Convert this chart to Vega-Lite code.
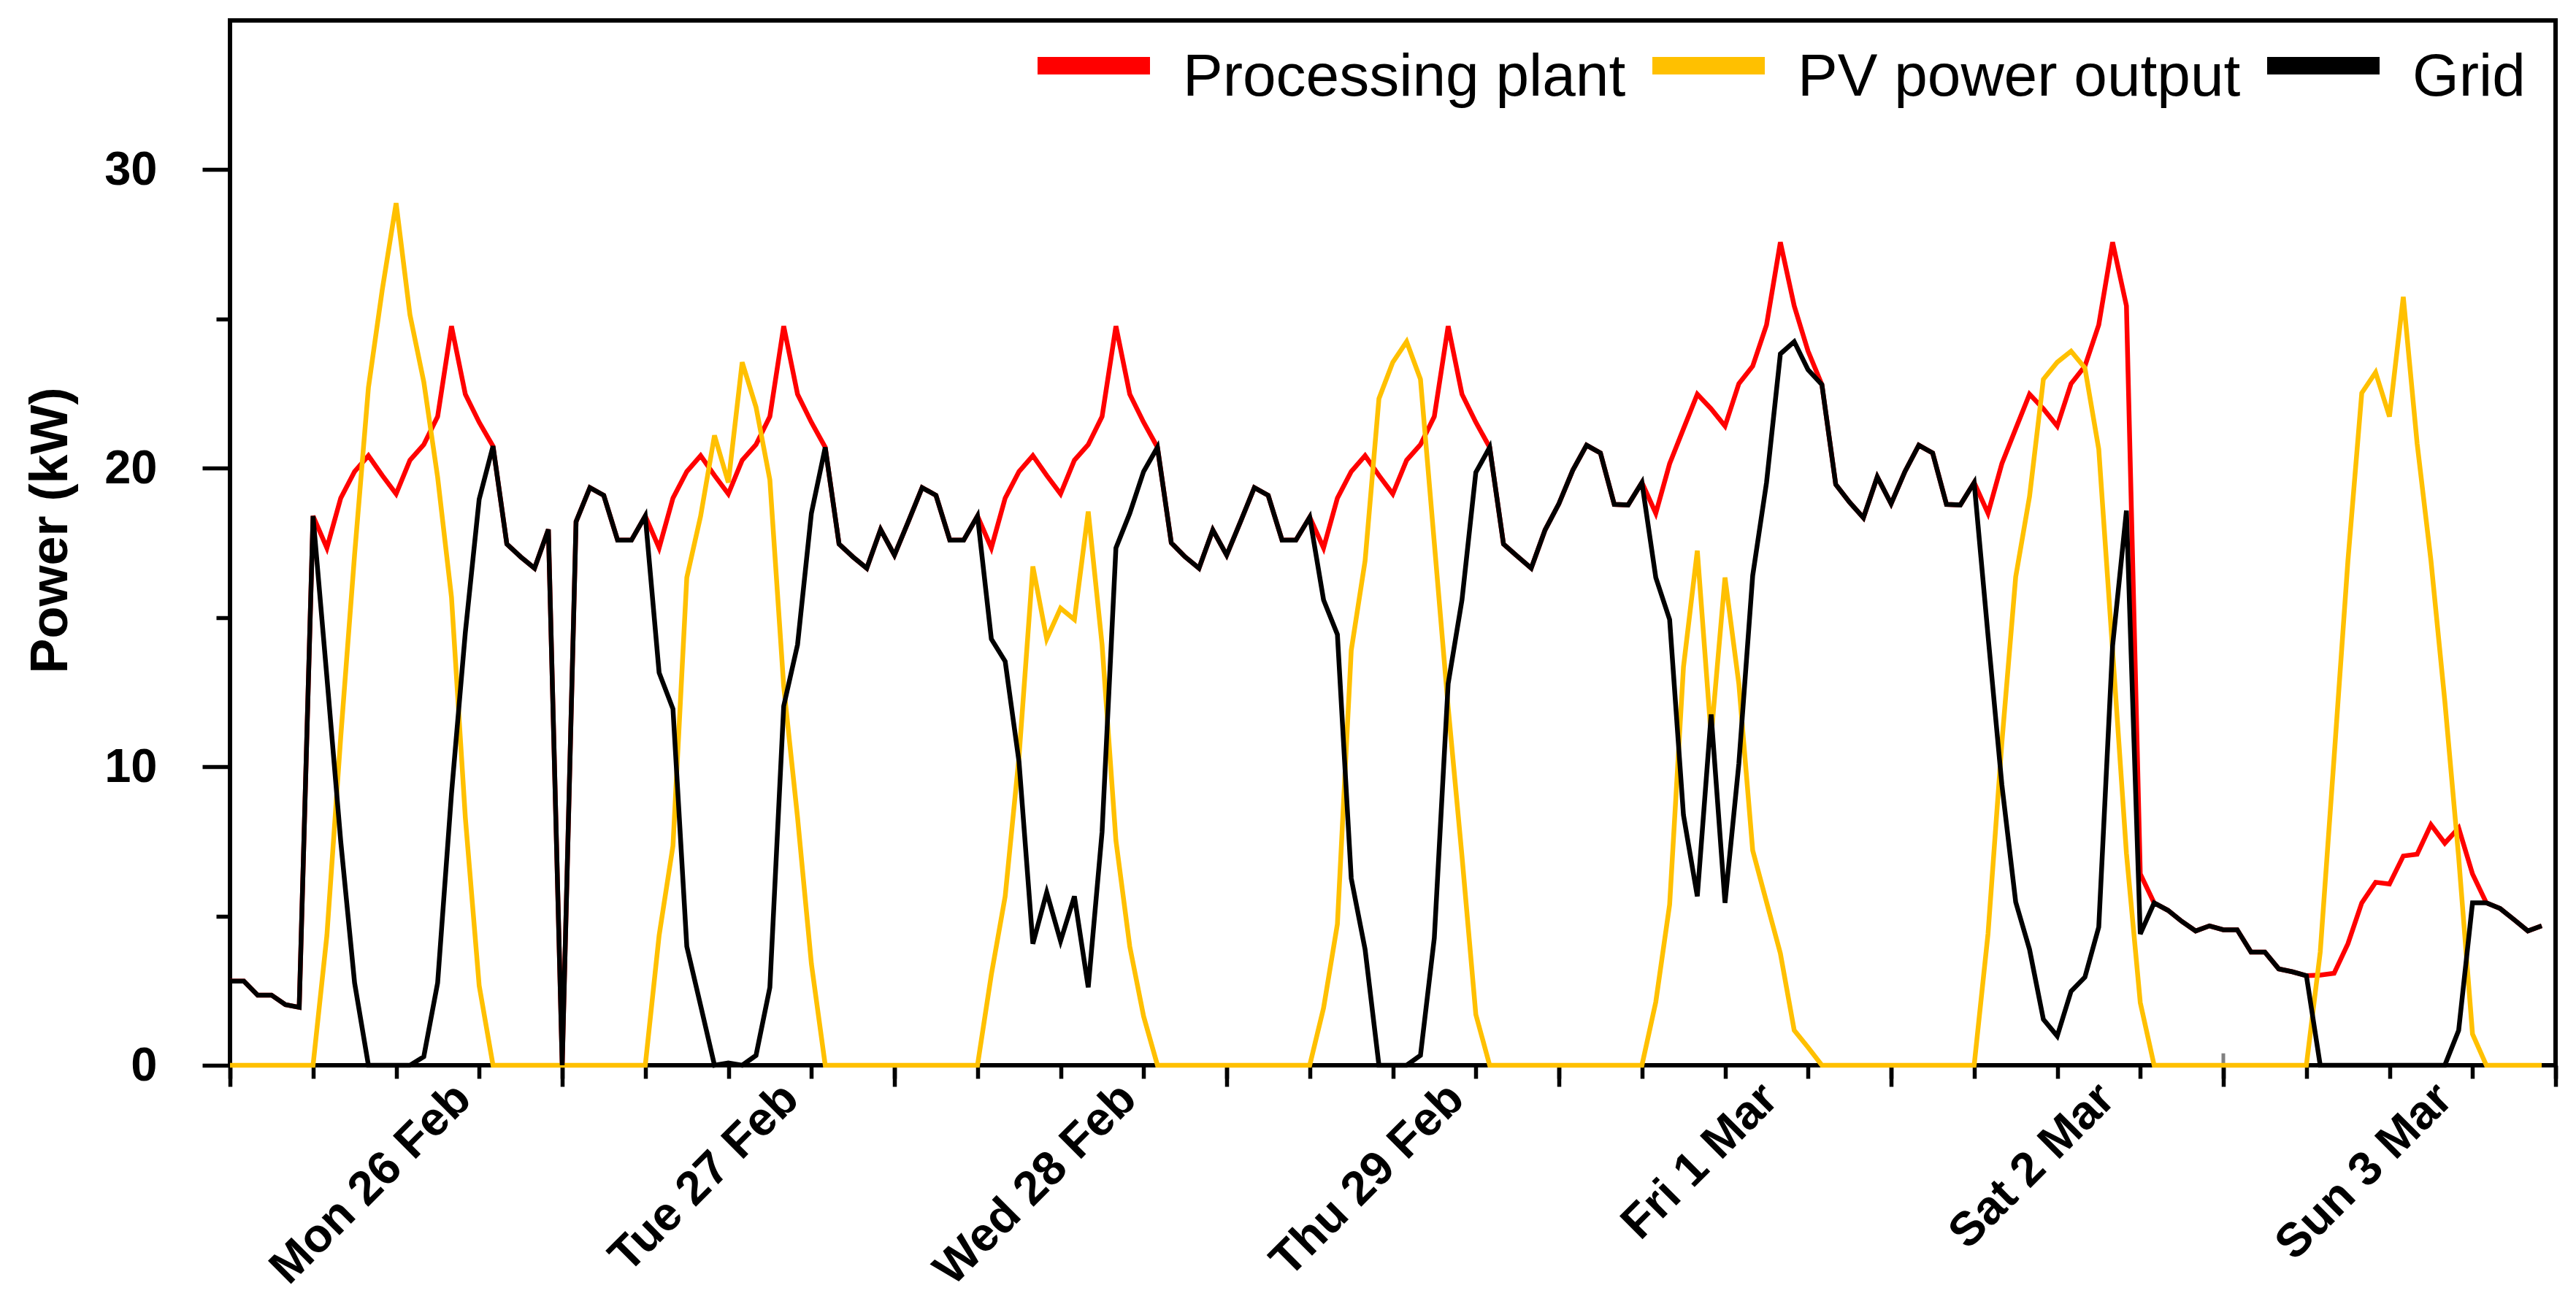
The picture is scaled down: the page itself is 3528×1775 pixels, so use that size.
{
  "$schema": "https://vega.github.io/schema/vega-lite/v6.json",
  "width": 3185,
  "height": 1431,
  "autosize": {"type": "none"},
  "padding": {"left": 315, "top": 28, "right": 28, "bottom": 316},
  "background": "white",
  "datasets": {
    "power": [
      {"h": 0, "Processing plant": 2.82, "PV power output": 0, "Grid": 2.82},
      {"h": 1, "Processing plant": 2.82, "PV power output": 0, "Grid": 2.82},
      {"h": 2, "Processing plant": 2.35, "PV power output": 0, "Grid": 2.35},
      {"h": 3, "Processing plant": 2.35, "PV power output": 0, "Grid": 2.35},
      {"h": 4, "Processing plant": 2.03, "PV power output": 0, "Grid": 2.03},
      {"h": 5, "Processing plant": 1.94, "PV power output": 0, "Grid": 1.94},
      {"h": 6, "Processing plant": 18.4, "PV power output": 0, "Grid": 18.4},
      {"h": 7, "Processing plant": 17.33, "PV power output": 4.35, "Grid": 13.0},
      {"h": 8, "Processing plant": 19.0, "PV power output": 11.0, "Grid": 7.5},
      {"h": 9, "Processing plant": 19.89, "PV power output": 17.1, "Grid": 2.76},
      {"h": 10, "Processing plant": 20.42, "PV power output": 22.7, "Grid": 0},
      {"h": 11, "Processing plant": 19.76, "PV power output": 25.98, "Grid": 0},
      {"h": 12, "Processing plant": 19.14, "PV power output": 28.88, "Grid": 0},
      {"h": 13, "Processing plant": 20.27, "PV power output": 25.14, "Grid": 0},
      {"h": 14, "Processing plant": 20.79, "PV power output": 22.89, "Grid": 0.29},
      {"h": 15, "Processing plant": 21.73, "PV power output": 19.7, "Grid": 2.76},
      {"h": 16, "Processing plant": 24.76, "PV power output": 15.68, "Grid": 9.1},
      {"h": 17, "Processing plant": 22.48, "PV power output": 8.3, "Grid": 14.5},
      {"h": 18, "Processing plant": 21.54, "PV power output": 2.67, "Grid": 18.96},
      {"h": 19, "Processing plant": 20.74, "PV power output": 0, "Grid": 20.74},
      {"h": 20, "Processing plant": 17.46, "PV power output": 0, "Grid": 17.46},
      {"h": 21, "Processing plant": 17.03, "PV power output": 0, "Grid": 17.03},
      {"h": 22, "Processing plant": 16.65, "PV power output": 0, "Grid": 16.65},
      {"h": 23, "Processing plant": 17.95, "PV power output": 0, "Grid": 17.95},
      {"h": 24, "Processing plant": 0, "PV power output": 0, "Grid": 0},
      {"h": 25, "Processing plant": 18.21, "PV power output": 0, "Grid": 18.21},
      {"h": 26, "Processing plant": 19.35, "PV power output": 0, "Grid": 19.35},
      {"h": 27, "Processing plant": 19.09, "PV power output": 0, "Grid": 19.09},
      {"h": 28, "Processing plant": 17.59, "PV power output": 0, "Grid": 17.59},
      {"h": 29, "Processing plant": 17.59, "PV power output": 0, "Grid": 17.59},
      {"h": 30, "Processing plant": 18.4, "PV power output": 0, "Grid": 18.4},
      {"h": 31, "Processing plant": 17.33, "PV power output": 4.35, "Grid": 13.15},
      {"h": 32, "Processing plant": 19.0, "PV power output": 7.35, "Grid": 11.94},
      {"h": 33, "Processing plant": 19.89, "PV power output": 16.34, "Grid": 3.98},
      {"h": 34, "Processing plant": 20.42, "PV power output": 18.4, "Grid": 2.0},
      {"h": 35, "Processing plant": 19.76, "PV power output": 21.1, "Grid": 0},
      {"h": 36, "Processing plant": 19.14, "PV power output": 19.52, "Grid": 0.08},
      {"h": 37, "Processing plant": 20.27, "PV power output": 23.55, "Grid": 0},
      {"h": 38, "Processing plant": 20.79, "PV power output": 22.05, "Grid": 0.33},
      {"h": 39, "Processing plant": 21.73, "PV power output": 19.61, "Grid": 2.61},
      {"h": 40, "Processing plant": 24.76, "PV power output": 12.7, "Grid": 12.03},
      {"h": 41, "Processing plant": 22.48, "PV power output": 8.3, "Grid": 14.09},
      {"h": 42, "Processing plant": 21.54, "PV power output": 3.4, "Grid": 18.49},
      {"h": 43, "Processing plant": 20.7, "PV power output": 0, "Grid": 20.7},
      {"h": 44, "Processing plant": 17.46, "PV power output": 0, "Grid": 17.46},
      {"h": 45, "Processing plant": 17.03, "PV power output": 0, "Grid": 17.03},
      {"h": 46, "Processing plant": 16.65, "PV power output": 0, "Grid": 16.65},
      {"h": 47, "Processing plant": 17.95, "PV power output": 0, "Grid": 17.95},
      {"h": 48, "Processing plant": 17.09, "PV power output": 0, "Grid": 17.09},
      {"h": 49, "Processing plant": 18.21, "PV power output": 0, "Grid": 18.21},
      {"h": 50, "Processing plant": 19.35, "PV power output": 0, "Grid": 19.35},
      {"h": 51, "Processing plant": 19.09, "PV power output": 0, "Grid": 19.09},
      {"h": 52, "Processing plant": 17.59, "PV power output": 0, "Grid": 17.59},
      {"h": 53, "Processing plant": 17.59, "PV power output": 0, "Grid": 17.59},
      {"h": 54, "Processing plant": 18.4, "PV power output": 0, "Grid": 18.4},
      {"h": 55, "Processing plant": 17.33, "PV power output": 3.04, "Grid": 14.28},
      {"h": 56, "Processing plant": 19.0, "PV power output": 5.66, "Grid": 13.53},
      {"h": 57, "Processing plant": 19.89, "PV power output": 10.34, "Grid": 10.16},
      {"h": 58, "Processing plant": 20.42, "PV power output": 16.71, "Grid": 4.07},
      {"h": 59, "Processing plant": 19.76, "PV power output": 14.28, "Grid": 5.79},
      {"h": 60, "Processing plant": 19.14, "PV power output": 15.31, "Grid": 4.16},
      {"h": 61, "Processing plant": 20.27, "PV power output": 14.93, "Grid": 5.66},
      {"h": 62, "Processing plant": 20.79, "PV power output": 18.55, "Grid": 2.61},
      {"h": 63, "Processing plant": 21.73, "PV power output": 14.09, "Grid": 7.82},
      {"h": 64, "Processing plant": 24.76, "PV power output": 7.53, "Grid": 17.33},
      {"h": 65, "Processing plant": 22.48, "PV power output": 3.98, "Grid": 18.49},
      {"h": 66, "Processing plant": 21.54, "PV power output": 1.64, "Grid": 19.89},
      {"h": 67, "Processing plant": 20.7, "PV power output": 0, "Grid": 20.7},
      {"h": 68, "Processing plant": 17.5, "PV power output": 0, "Grid": 17.5},
      {"h": 69, "Processing plant": 17.03, "PV power output": 0, "Grid": 17.03},
      {"h": 70, "Processing plant": 16.65, "PV power output": 0, "Grid": 16.65},
      {"h": 71, "Processing plant": 17.93, "PV power output": 0, "Grid": 17.93},
      {"h": 72, "Processing plant": 17.09, "PV power output": 0, "Grid": 17.09},
      {"h": 73, "Processing plant": 18.21, "PV power output": 0, "Grid": 18.21},
      {"h": 74, "Processing plant": 19.35, "PV power output": 0, "Grid": 19.35},
      {"h": 75, "Processing plant": 19.09, "PV power output": 0, "Grid": 19.09},
      {"h": 76, "Processing plant": 17.59, "PV power output": 0, "Grid": 17.59},
      {"h": 77, "Processing plant": 17.59, "PV power output": 0, "Grid": 17.59},
      {"h": 78, "Processing plant": 18.36, "PV power output": 0, "Grid": 18.36},
      {"h": 79, "Processing plant": 17.33, "PV power output": 1.92, "Grid": 15.59},
      {"h": 80, "Processing plant": 19.0, "PV power output": 4.73, "Grid": 14.43},
      {"h": 81, "Processing plant": 19.89, "PV power output": 13.9, "Grid": 6.26},
      {"h": 82, "Processing plant": 20.42, "PV power output": 16.9, "Grid": 3.88},
      {"h": 83, "Processing plant": 19.76, "PV power output": 22.33, "Grid": 0},
      {"h": 84, "Processing plant": 19.14, "PV power output": 23.55, "Grid": 0},
      {"h": 85, "Processing plant": 20.27, "PV power output": 24.24, "Grid": 0},
      {"h": 86, "Processing plant": 20.79, "PV power output": 22.98, "Grid": 0.33},
      {"h": 87, "Processing plant": 21.73, "PV power output": 17.5, "Grid": 4.26},
      {"h": 88, "Processing plant": 24.76, "PV power output": 12.0, "Grid": 12.78},
      {"h": 89, "Processing plant": 22.48, "PV power output": 7.0, "Grid": 15.59},
      {"h": 90, "Processing plant": 21.54, "PV power output": 1.7, "Grid": 19.86},
      {"h": 91, "Processing plant": 20.7, "PV power output": 0, "Grid": 20.7},
      {"h": 92, "Processing plant": 17.46, "PV power output": 0, "Grid": 17.46},
      {"h": 93, "Processing plant": 17.05, "PV power output": 0, "Grid": 17.05},
      {"h": 94, "Processing plant": 16.65, "PV power output": 0, "Grid": 16.65},
      {"h": 95, "Processing plant": 17.93, "PV power output": 0, "Grid": 17.93},
      {"h": 96, "Processing plant": 18.81, "PV power output": 0, "Grid": 18.81},
      {"h": 97, "Processing plant": 19.93, "PV power output": 0, "Grid": 19.93},
      {"h": 98, "Processing plant": 20.77, "PV power output": 0, "Grid": 20.77},
      {"h": 99, "Processing plant": 20.51, "PV power output": 0, "Grid": 20.51},
      {"h": 100, "Processing plant": 18.79, "PV power output": 0, "Grid": 18.79},
      {"h": 101, "Processing plant": 18.77, "PV power output": 0, "Grid": 18.77},
      {"h": 102, "Processing plant": 19.52, "PV power output": 0, "Grid": 19.52},
      {"h": 103, "Processing plant": 18.49, "PV power output": 2.12, "Grid": 16.34},
      {"h": 104, "Processing plant": 20.15, "PV power output": 5.38, "Grid": 14.93},
      {"h": 105, "Processing plant": 21.32, "PV power output": 13.34, "Grid": 8.38},
      {"h": 106, "Processing plant": 22.48, "PV power output": 17.24, "Grid": 5.66},
      {"h": 107, "Processing plant": 21.99, "PV power output": 11.0, "Grid": 11.75},
      {"h": 108, "Processing plant": 21.41, "PV power output": 16.34, "Grid": 5.44},
      {"h": 109, "Processing plant": 22.83, "PV power output": 12.78, "Grid": 10.1},
      {"h": 110, "Processing plant": 23.42, "PV power output": 7.2, "Grid": 16.4},
      {"h": 111, "Processing plant": 24.8, "PV power output": 5.47, "Grid": 19.52},
      {"h": 112, "Processing plant": 27.57, "PV power output": 3.75, "Grid": 23.83},
      {"h": 113, "Processing plant": 25.44, "PV power output": 1.17, "Grid": 24.24},
      {"h": 114, "Processing plant": 23.92, "PV power output": 0.6, "Grid": 23.3},
      {"h": 115, "Processing plant": 22.8, "PV power output": 0, "Grid": 22.8},
      {"h": 116, "Processing plant": 19.46, "PV power output": 0, "Grid": 19.46},
      {"h": 117, "Processing plant": 18.86, "PV power output": 0, "Grid": 18.86},
      {"h": 118, "Processing plant": 18.34, "PV power output": 0, "Grid": 18.34},
      {"h": 119, "Processing plant": 19.71, "PV power output": 0, "Grid": 19.71},
      {"h": 120, "Processing plant": 18.81, "PV power output": 0, "Grid": 18.81},
      {"h": 121, "Processing plant": 19.89, "PV power output": 0, "Grid": 19.89},
      {"h": 122, "Processing plant": 20.77, "PV power output": 0, "Grid": 20.77},
      {"h": 123, "Processing plant": 20.51, "PV power output": 0, "Grid": 20.51},
      {"h": 124, "Processing plant": 18.79, "PV power output": 0, "Grid": 18.79},
      {"h": 125, "Processing plant": 18.77, "PV power output": 0, "Grid": 18.77},
      {"h": 126, "Processing plant": 19.52, "PV power output": 0, "Grid": 19.52},
      {"h": 127, "Processing plant": 18.49, "PV power output": 4.4, "Grid": 14.4},
      {"h": 128, "Processing plant": 20.15, "PV power output": 10.8, "Grid": 9.4},
      {"h": 129, "Processing plant": 21.32, "PV power output": 16.36, "Grid": 5.47},
      {"h": 130, "Processing plant": 22.48, "PV power output": 19.05, "Grid": 3.88},
      {"h": 131, "Processing plant": 21.99, "PV power output": 22.98, "Grid": 1.54},
      {"h": 132, "Processing plant": 21.41, "PV power output": 23.55, "Grid": 0.98},
      {"h": 133, "Processing plant": 22.83, "PV power output": 23.92, "Grid": 2.48},
      {"h": 134, "Processing plant": 23.42, "PV power output": 23.36, "Grid": 2.95},
      {"h": 135, "Processing plant": 24.8, "PV power output": 20.64, "Grid": 4.63},
      {"h": 136, "Processing plant": 27.57, "PV power output": 13.9, "Grid": 14.05},
      {"h": 137, "Processing plant": 25.44, "PV power output": 7.1, "Grid": 18.58},
      {"h": 138, "Processing plant": 6.41, "PV power output": 2.1, "Grid": 4.4},
      {"h": 139, "Processing plant": 5.44, "PV power output": 0, "Grid": 5.44},
      {"h": 140, "Processing plant": 5.19, "PV power output": 0, "Grid": 5.19},
      {"h": 141, "Processing plant": 4.82, "PV power output": 0, "Grid": 4.82},
      {"h": 142, "Processing plant": 4.5, "PV power output": 0, "Grid": 4.5},
      {"h": 143, "Processing plant": 4.67, "PV power output": 0, "Grid": 4.67},
      {"h": 144, "Processing plant": 4.54, "PV power output": 0, "Grid": 4.54},
      {"h": 145, "Processing plant": 4.54, "PV power output": 0, "Grid": 4.54},
      {"h": 146, "Processing plant": 3.79, "PV power output": 0, "Grid": 3.79},
      {"h": 147, "Processing plant": 3.79, "PV power output": 0, "Grid": 3.79},
      {"h": 148, "Processing plant": 3.23, "PV power output": 0, "Grid": 3.23},
      {"h": 149, "Processing plant": 3.13, "PV power output": 0, "Grid": 3.13},
      {"h": 150, "Processing plant": 3.0, "PV power output": 0, "Grid": 3.0},
      {"h": 151, "Processing plant": 3.02, "PV power output": 3.79, "Grid": 0},
      {"h": 152, "Processing plant": 3.08, "PV power output": 10.3, "Grid": 0},
      {"h": 153, "Processing plant": 4.07, "PV power output": 16.9, "Grid": 0},
      {"h": 154, "Processing plant": 5.44, "PV power output": 22.52, "Grid": 0},
      {"h": 155, "Processing plant": 6.13, "PV power output": 23.21, "Grid": 0},
      {"h": 156, "Processing plant": 6.07, "PV power output": 21.73, "Grid": 0},
      {"h": 157, "Processing plant": 7.01, "PV power output": 25.74, "Grid": 0},
      {"h": 158, "Processing plant": 7.07, "PV power output": 20.83, "Grid": 0},
      {"h": 159, "Processing plant": 8.06, "PV power output": 16.9, "Grid": 0},
      {"h": 160, "Processing plant": 7.44, "PV power output": 12.2, "Grid": 0},
      {"h": 161, "Processing plant": 7.95, "PV power output": 6.97, "Grid": 1.17},
      {"h": 162, "Processing plant": 6.41, "PV power output": 1.05, "Grid": 5.44},
      {"h": 163, "Processing plant": 5.44, "PV power output": 0, "Grid": 5.44},
      {"h": 164, "Processing plant": 5.25, "PV power output": 0, "Grid": 5.25},
      {"h": 165, "Processing plant": 4.88, "PV power output": 0, "Grid": 4.88},
      {"h": 166, "Processing plant": 4.5, "PV power output": 0, "Grid": 4.5},
      {"h": 167, "Processing plant": 4.67, "PV power output": 0, "Grid": 4.67}
    ],
    "marker": [{"h": 144, "v0": 0, "v1": 0.4}]
  },
  "layer": [
    {
      "data": {"name": "marker"},
      "mark": {"type": "rule", "color": "#808080", "strokeWidth": 5},
      "encoding": {
        "x": {
          "field": "h",
          "type": "quantitative",
          "scale": {"domain": [0, 168], "nice": false, "zero": false},
          "axis": {
            "orient": "bottom",
            "values": [0, 24, 48, 72, 96, 120, 144, 168],
            "tickSize": 29,
            "labels": false,
            "title": null
          }
        },
        "y": {
          "field": "v0",
          "type": "quantitative",
          "scale": {"domain": [0, 35], "nice": false},
          "axis": {
            "orient": "left",
            "values": [5, 15, 25],
            "tickSize": 19,
            "labels": false,
            "title": null
          }
        },
        "y2": {"field": "v1"}
      }
    },
    {
      "data": {"name": "marker"},
      "mark": {"type": "rule", "opacity": 0},
      "encoding": {
        "x": {
          "field": "h",
          "type": "quantitative",
          "scale": {"domain": [0, 168], "nice": false, "zero": false},
          "axis": {
            "orient": "bottom",
            "values": [0, 6, 12, 18, 24, 30, 36, 42, 48, 54, 60, 66, 72, 78, 84, 90, 96, 102, 108, 114, 120, 126, 132, 138, 144, 150, 156, 162, 168],
            "tickSize": 18,
            "labels": false,
            "title": null
          }
        },
        "y": {
          "field": "v0",
          "type": "quantitative",
          "scale": {"domain": [0, 35], "nice": false},
          "axis": null
        },
        "y2": {"field": "v1"}
      }
    },
    {
      "data": {"name": "power"},
      "transform": [
        {"fold": ["Processing plant", "PV power output", "Grid"], "as": ["series", "kW"]}
      ],
      "mark": {"type": "line", "strokeWidth": 6.5},
      "encoding": {
        "x": {
          "field": "h",
          "type": "quantitative",
          "scale": {"domain": [0, 168], "nice": false, "zero": false},
          "axis": {
            "orient": "bottom",
            "values": [15.65, 39.32, 63.72, 87.39, 110.06, 134.39, 158.79],
            "ticks": false,
            "labelAngle": -45,
            "labelAlign": "right",
            "labelBaseline": "top",
            "labelPadding": 13,
            "labelFontSize": 65,
            "labelFontWeight": "bold",
            "labelExpr": "['Mon 26 Feb', 'Tue 27 Feb', 'Wed 28 Feb', 'Thu 29 Feb', 'Fri 1 Mar', 'Sat 2 Mar', 'Sun 3 Mar'][floor(datum.value / 24)]",
            "title": null
          }
        },
        "y": {
          "field": "kW",
          "type": "quantitative",
          "scale": {"domain": [0, 35], "nice": false},
          "axis": {
            "orient": "left",
            "values": [0, 10, 20, 30],
            "tickSize": 38,
            "labelPadding": 62,
            "labelFontSize": 65,
            "labelFontWeight": "bold",
            "title": "Power (kW)",
            "titleFontSize": 72,
            "titleFontWeight": "bold",
            "titleAngle": 270,
            "titleAlign": "center",
            "titleBaseline": "alphabetic",
            "titleX": -224,
            "titleY": 698
          }
        },
        "color": {
          "field": "series",
          "type": "nominal",
          "scale": {
            "domain": ["Processing plant", "PV power output", "Grid"],
            "range": ["#ff0000", "#ffc000", "#000000"]
          },
          "legend": {
            "title": null,
            "orient": "none",
            "legendX": 1094,
            "legendY": -11,
            "direction": "horizontal",
            "padding": 0,
            "symbolType": "M-1,-0.207H1",
            "symbolSize": 23716,
            "symbolStrokeWidth": 24,
            "labelFontSize": 82,
            "labelOffset": 33,
            "columnPadding": -12,
            "labelLimit": 2000
          }
        }
      }
    }
  ],
  "resolve": {"axis": {"x": "independent", "y": "independent"}},
  "config": {
    "font": "Liberation Sans",
    "view": {"stroke": "black", "strokeWidth": 6},
    "axis": {
      "grid": false,
      "domain": false,
      "tickColor": "black",
      "tickWidth": 5.5,
      "labelColor": "black",
      "titleColor": "black",
      "labelFlush": false,
      "labelOverlap": false,
      "labelBound": false,
      "labelLimit": 1000
    },
    "legend": {"labelColor": "black", "labelFont": "Liberation Sans"}
  }
}
